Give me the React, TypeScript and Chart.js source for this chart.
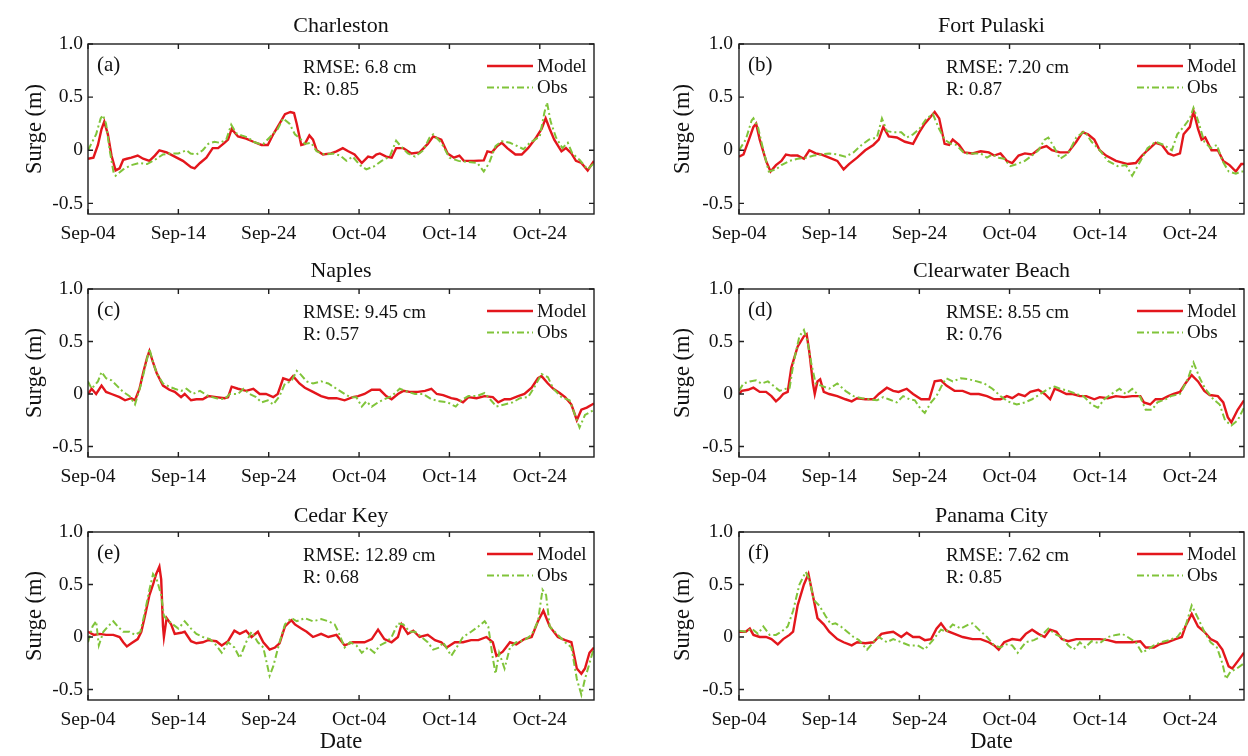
import React, { useEffect, useRef } from 'react';
import { Chart, registerables } from 'chart.js';

Chart.register(...registerables);

// ---------- DATA ----------
const xTickDays = [0, 10, 20, 30, 40, 50];
const xTickLabels = ['Sep-04', 'Sep-14', 'Sep-24', 'Oct-04', 'Oct-14', 'Oct-24'];
const yTickValues = [-0.5, 0, 0.5, 1.0];
const yTickLabels = ['-0.5', '0', '0.5', '1.0'];
const stationNames = ['Charleston', 'Fort Pulaski', 'Naples', 'Clearwater Beach', 'Cedar Key', 'Panama City'];
const panelLetters = ['(a)', '(b)', '(c)', '(d)', '(e)', '(f)'];
const rmseLabels = ['RMSE: 6.8 cm', 'RMSE: 7.20 cm', 'RMSE: 9.45 cm', 'RMSE: 8.55 cm', 'RMSE: 12.89 cm', 'RMSE: 7.62 cm'];
const rLabels = ['R: 0.85', 'R: 0.87', 'R: 0.57', 'R: 0.76', 'R: 0.68', 'R: 0.85'];
const seriesNames = ['Model', 'Obs'];

// [day since Sep-04, surge (m)]
const charlestonModel = [[0,-0.08],[0.6,-0.07],[1.1,0.05],[1.5,0.2],[1.8,0.27],[2.2,0.15],[2.6,-0.05],[3.05,-0.19],[3.5,-0.17],[3.9,-0.09],[4.3,-0.08],[4.8,-0.07],[5.5,-0.05],[6.1,-0.08],[6.8,-0.1],[7.4,-0.05],[7.9,0.0],[8.7,-0.02],[9.6,-0.06],[10.5,-0.1],[11.4,-0.16],[11.8,-0.17],[12.4,-0.12],[13.1,-0.07],[13.8,0.02],[14.4,0.02],[15.1,0.07],[15.5,0.1],[15.9,0.2],[16.6,0.13],[17.5,0.11],[18.3,0.08],[19.2,0.05],[19.9,0.05],[20.5,0.15],[21.2,0.25],[21.8,0.34],[22.4,0.36],[22.8,0.35],[23.1,0.25],[23.6,0.05],[24,0.06],[24.5,0.14],[24.9,0.1],[25.3,0.0],[26,-0.04],[26.9,-0.03],[27.5,-0.01],[28.2,0.02],[28.8,-0.01],[29.5,-0.04],[30.3,-0.12],[31,-0.06],[31.5,-0.07],[31.9,-0.04],[32.3,-0.03],[33,-0.06],[33.6,-0.07],[34.1,0.02],[34.9,0.02],[35.8,-0.03],[36.7,-0.02],[37.6,0.06],[38.2,0.13],[39.1,0.1],[39.8,-0.03],[40.5,-0.07],[41.1,-0.05],[41.6,-0.1],[42.7,-0.1],[43.8,-0.095],[44.2,-0.01],[44.7,-0.02],[45.3,0.04],[45.8,0.07],[46.4,0.02],[47.3,-0.04],[48,-0.04],[48.7,0.02],[49.6,0.12],[50.2,0.2],[50.65,0.3],[51.1,0.2],[51.6,0.1],[52.4,-0.01],[52.9,0.02],[53.5,-0.03],[54,-0.1],[54.6,-0.12],[55.3,-0.19],[56,-0.1]];
const charlestonObs = [[0,0.0],[0.9,0.15],[1.4,0.3],[1.65,0.33],[2,0.25],[2.4,0.0],[2.85,-0.22],[3.05,-0.24],[3.9,-0.18],[4.8,-0.14],[5.7,-0.12],[6.55,-0.13],[7.4,-0.09],[8.3,-0.04],[9.2,-0.03],[10,-0.03],[10.9,0.0],[11.35,-0.03],[12,-0.04],[12.7,0.0],[13.3,0.06],[14,0.08],[14.6,0.07],[15.3,0.1],[15.85,0.24],[16.4,0.16],[17,0.14],[17.7,0.12],[18.3,0.08],[19,0.06],[19.4,0.06],[20.1,0.12],[21,0.2],[21.6,0.3],[22.3,0.25],[22.9,0.15],[23.6,0.1],[24,0.06],[24.7,0.07],[25.3,-0.01],[26.2,-0.04],[27.1,-0.03],[27.9,-0.05],[28.6,-0.1],[29.3,-0.06],[30.1,-0.14],[30.8,-0.18],[31.7,-0.15],[32.5,-0.1],[33.4,-0.06],[34.1,0.09],[34.7,0.03],[35.4,-0.03],[36.2,-0.06],[37.1,0.0],[37.8,0.12],[38.2,0.15],[39.1,0.07],[40,-0.07],[41,-0.1],[42,-0.11],[43.1,-0.12],[43.8,-0.2],[44.4,-0.12],[45.1,0.04],[45.8,0.085],[46.7,0.07],[47.5,0.04],[48.2,0.01],[48.9,0.07],[50,0.13],[50.5,0.35],[50.8,0.45],[51.2,0.27],[51.8,0.12],[52.5,0.02],[53.1,0.07],[53.6,-0.03],[54.4,-0.09],[55.3,-0.18],[56,-0.12]];

const pulaskiModel = [[0,-0.06],[0.5,-0.04],[1.1,0.1],[1.6,0.22],[1.9,0.25],[2.3,0.1],[3,-0.1],[3.5,-0.2],[4.1,-0.14],[4.7,-0.1],[5.2,-0.04],[5.8,-0.05],[6.5,-0.05],[7.2,-0.08],[7.8,0.0],[8.5,-0.03],[9.1,-0.04],[10,-0.07],[10.9,-0.1],[11.6,-0.18],[12.2,-0.13],[13.1,-0.07],[14,0.0],[14.9,0.05],[15.5,0.1],[16,0.22],[16.6,0.13],[17.5,0.12],[18.4,0.08],[19.3,0.06],[20,0.17],[20.6,0.25],[21.3,0.32],[21.7,0.36],[22.2,0.3],[22.8,0.06],[23.3,0.05],[23.7,0.1],[24.4,0.05],[25,-0.02],[25.9,-0.03],[26.8,-0.01],[27.7,-0.02],[28.3,-0.05],[29,-0.03],[29.7,-0.1],[30.3,-0.12],[31,-0.05],[31.7,-0.03],[32.5,-0.04],[33.4,0.02],[34.1,0.04],[34.7,0.0],[35.6,-0.02],[36.5,-0.02],[37.4,0.08],[38.1,0.17],[38.7,0.15],[39.4,0.1],[40,0.0],[40.7,-0.05],[41.8,-0.1],[43.1,-0.13],[44,-0.12],[44.7,-0.05],[45.3,0.0],[46.2,0.07],[46.9,0.05],[47.6,-0.03],[48.2,-0.05],[48.9,-0.03],[49.3,0.15],[50,0.22],[50.4,0.37],[50.9,0.2],[51.3,0.1],[51.7,0.12],[52.4,0.0],[53.1,0.0],[53.7,-0.1],[54.4,-0.14],[55.1,-0.2],[55.7,-0.13],[56,-0.13]];
const pulaskiObs = [[0,0.0],[0.75,0.1],[1.4,0.28],[1.6,0.3],[2.1,0.22],[2.7,0.0],[3.3,-0.2],[4.1,-0.18],[4.7,-0.14],[5.6,-0.1],[6.5,-0.08],[7.4,-0.07],[8.3,-0.05],[9.1,-0.04],[10,-0.03],[10.9,-0.04],[11.8,-0.06],[12.7,-0.02],[13.6,0.05],[14.4,0.1],[15.3,0.12],[15.85,0.3],[16.4,0.18],[17.1,0.17],[18,0.17],[18.6,0.12],[19.3,0.15],[20,0.2],[20.8,0.3],[21.5,0.34],[22.2,0.2],[22.8,0.1],[23.5,0.06],[24.1,0.05],[25,-0.03],[25.9,-0.03],[26.8,-0.03],[27.5,-0.07],[28.1,-0.04],[28.8,-0.07],[29.4,-0.08],[30.1,-0.15],[30.8,-0.13],[31.7,-0.1],[32.5,-0.05],[33.2,0.0],[33.9,0.1],[34.3,0.12],[35,0.02],[35.6,-0.08],[36.5,-0.03],[37.4,0.12],[38.3,0.18],[39.1,0.08],[40,0.0],[40.9,-0.1],[42,-0.15],[42.9,-0.14],[43.6,-0.24],[44.2,-0.15],[45.3,0.02],[46.2,0.08],[47.1,0.05],[48,0.0],[48.6,0.15],[49.3,0.22],[50,0.3],[50.4,0.4],[50.9,0.28],[51.6,0.08],[52.3,0.02],[53,0.05],[53.6,-0.1],[54.3,-0.2],[55.1,-0.22],[55.7,-0.2],[56,-0.2]];

const naplesModel = [[0,0.0],[0.4,0.05],[0.9,0.0],[1.5,0.08],[2,0.02],[2.6,0.0],[3.5,-0.03],[4.1,-0.06],[4.8,-0.04],[5.2,-0.06],[5.7,0.05],[6.1,0.2],[6.55,0.35],[6.8,0.41],[7.2,0.3],[7.6,0.2],[8.3,0.08],[9,0.04],[9.6,0.02],[10.3,-0.03],[10.7,0.0],[11.4,-0.06],[12,-0.05],[12.7,-0.05],[13.3,-0.02],[14.2,-0.03],[15.1,-0.04],[15.5,-0.03],[15.9,0.07],[16.6,0.05],[17.5,0.03],[18.3,0.05],[19,0.0],[19.7,0.0],[20.5,-0.03],[21,0.0],[21.6,0.15],[22.3,0.13],[22.7,0.17],[23.4,0.1],[24,0.06],[24.9,0.02],[25.8,-0.02],[26.6,-0.04],[27.5,-0.04],[28.4,-0.06],[29.3,-0.03],[29.9,-0.02],[30.6,0.0],[31.4,0.04],[32.3,0.04],[33,-0.02],[33.6,-0.05],[34.3,0.0],[34.9,0.03],[35.6,0.02],[36.5,0.02],[37.3,0.03],[38,0.05],[38.6,0.0],[39.3,-0.01],[40.2,-0.04],[40.8,-0.05],[41.5,-0.08],[42.1,-0.03],[43,-0.04],[43.9,-0.02],[44.8,-0.03],[45.4,-0.08],[46.1,-0.05],[46.7,-0.05],[47.6,-0.02],[48.3,0.0],[49.1,0.06],[49.8,0.15],[50.2,0.17],[50.9,0.1],[51.5,0.05],[52.2,0.01],[52.8,-0.03],[53.5,-0.1],[54.1,-0.25],[54.6,-0.15],[55.2,-0.13],[56,-0.09]];
const naplesObs = [[0,0.12],[0.4,0.05],[1.1,0.12],[1.5,0.21],[2,0.15],[2.6,0.13],[3.3,0.07],[3.9,0.02],[4.6,-0.02],[5.2,-0.1],[5.9,0.1],[6.3,0.25],[6.8,0.43],[7.2,0.3],[7.6,0.2],[8.3,0.1],[9,0.07],[9.6,0.05],[10.3,0.03],[10.9,0.05],[11.6,0.0],[12.4,0.03],[13.3,-0.02],[14.2,-0.04],[15.1,-0.05],[15.7,0.0],[16.6,0.0],[17.2,0.05],[17.9,0.0],[18.6,-0.03],[19.2,-0.08],[19.9,-0.06],[20.5,-0.1],[21.2,-0.02],[21.8,0.1],[22.5,0.12],[23.1,0.22],[23.6,0.18],[24.2,0.12],[24.9,0.1],[25.8,0.12],[26.6,0.1],[27.5,0.05],[28.4,0.0],[29,-0.03],[29.7,-0.03],[30.3,-0.12],[30.8,-0.07],[31.4,-0.12],[32.1,-0.08],[32.8,-0.05],[33.6,-0.02],[34.5,0.05],[35.4,0.02],[36.2,0.0],[37.1,0.0],[38,-0.05],[38.9,-0.07],[39.8,-0.08],[40.7,-0.12],[41.3,-0.06],[42.1,-0.02],[43,-0.02],[43.9,0.01],[44.5,-0.05],[45.2,-0.12],[46.1,-0.1],[47,-0.08],[47.8,-0.04],[48.7,-0.03],[49.3,0.05],[50.2,0.19],[50.9,0.16],[51.5,0.05],[52.4,-0.03],[53.3,-0.06],[53.9,-0.2],[54.4,-0.32],[55,-0.2],[56,-0.15]];

const clearwaterModel = [[0,0.0],[0.3,0.03],[1,0.04],[1.6,0.06],[2.3,0.02],[3,0.02],[3.6,-0.02],[4.1,-0.07],[4.5,-0.04],[4.9,0.0],[5.4,0.02],[5.8,0.25],[6.5,0.45],[7.2,0.55],[7.5,0.57],[7.8,0.4],[8.2,0.1],[8.4,0.0],[8.7,0.12],[9,0.14],[9.4,0.02],[10,0.0],[10.9,-0.02],[11.8,-0.05],[12.5,-0.07],[13.1,-0.04],[14,-0.05],[14.9,-0.05],[15.5,0.0],[16.4,0.06],[17.1,0.03],[17.7,0.02],[18.6,0.05],[19.3,0.0],[20.2,-0.05],[21.1,-0.05],[21.7,0.12],[22.4,0.13],[23,0.08],[23.9,0.03],[24.8,0.03],[25.7,0.0],[26.6,0.0],[27.5,-0.02],[28.3,-0.05],[29,-0.05],[29.7,-0.02],[30.3,-0.04],[31,0.0],[31.7,-0.02],[32.3,0.02],[33.2,0.04],[33.9,0.0],[34.5,-0.05],[35,0.05],[35.6,0.03],[36.3,0.0],[37,0.0],[37.8,-0.02],[38.5,-0.02],[39.4,-0.05],[40,-0.03],[40.9,-0.04],[41.8,-0.02],[42.7,-0.03],[43.6,-0.02],[44.5,-0.02],[44.9,-0.08],[45.6,-0.1],[46.2,-0.05],[46.9,-0.05],[47.6,-0.02],[48.2,0.0],[48.9,0.02],[49.5,0.1],[50.2,0.18],[50.9,0.12],[51.6,0.03],[52.2,-0.01],[53.1,-0.02],[53.7,-0.08],[54.2,-0.22],[54.6,-0.27],[55.3,-0.15],[56,-0.06]];
const clearwaterObs = [[0,0.03],[0.5,0.1],[1.2,0.12],[1.9,0.13],[2.5,0.1],[3.2,0.12],[3.8,0.08],[4.5,0.03],[5.2,0.05],[5.6,0.05],[6.05,0.3],[6.7,0.55],[7.2,0.61],[7.6,0.5],[8,0.3],[8.5,0.1],[9.1,0.08],[10,0.05],[10.9,0.1],[11.8,0.03],[12.7,-0.02],[13.6,-0.04],[14.4,-0.05],[15.3,-0.06],[16,-0.03],[16.6,-0.05],[17.5,-0.08],[18.2,-0.02],[18.9,-0.05],[19.5,-0.06],[20.2,-0.15],[20.6,-0.18],[21.3,-0.08],[21.9,-0.02],[22.6,0.1],[23,0.15],[23.7,0.12],[24.6,0.15],[25.5,0.14],[26.4,0.12],[27.2,0.1],[28.1,0.05],[29,-0.02],[29.8,-0.07],[30.8,-0.1],[31.7,-0.08],[32.5,-0.05],[33.4,0.0],[34.3,0.05],[35,0.07],[35.6,0.05],[36.5,0.03],[37.4,0.0],[38.2,-0.02],[39.1,-0.1],[39.8,-0.13],[40.5,-0.05],[41.3,0.0],[42.2,0.05],[42.9,0.0],[43.6,0.05],[44.5,-0.03],[45.1,-0.15],[45.8,-0.15],[46.4,-0.08],[47.3,-0.05],[47.9,-0.02],[48.9,0.0],[49.8,0.15],[50.4,0.3],[51.1,0.15],[51.7,0.05],[52.6,-0.05],[53.3,-0.1],[53.9,-0.25],[54.6,-0.3],[55.3,-0.25],[56,-0.13]];

const cedarKeyModel = [[0,0.05],[0.65,0.02],[1.3,0.03],[2,0.02],[2.8,0.02],[3.5,0.0],[3.9,-0.05],[4.3,-0.09],[4.8,-0.06],[5.5,-0.02],[5.9,0.05],[6.3,0.2],[6.8,0.4],[7.2,0.5],[7.55,0.6],[7.9,0.67],[8.1,0.55],[8.3,0.1],[8.4,0.0],[8.7,0.18],[9.2,0.12],[9.6,0.03],[10.3,0.04],[10.7,0.05],[11.4,-0.04],[12,-0.06],[12.7,-0.05],[13.3,-0.03],[14.2,-0.04],[14.8,-0.08],[15.5,-0.04],[16.2,0.06],[16.8,0.03],[17.5,0.06],[18.1,0.0],[18.8,0.05],[19.4,-0.05],[20.1,-0.12],[20.7,-0.1],[21.2,-0.06],[21.8,0.1],[22.5,0.16],[22.9,0.12],[23.6,0.08],[24.2,0.05],[24.9,0.0],[25.8,0.03],[26.6,0.0],[27.5,0.02],[28.4,-0.08],[29.3,-0.05],[29.9,-0.05],[30.6,-0.05],[31.4,-0.02],[32.1,0.07],[32.8,-0.02],[33.6,-0.05],[34.3,0.0],[34.7,0.12],[35.4,0.03],[36,0.06],[36.7,0.0],[37.6,0.02],[38.4,-0.03],[39.1,-0.05],[39.7,-0.1],[40.6,-0.05],[41.5,-0.05],[42.4,-0.03],[43.2,-0.03],[44.1,0.0],[44.8,-0.05],[45.2,-0.18],[45.9,-0.14],[46.7,-0.05],[47.4,-0.07],[48.3,-0.02],[49.1,0.0],[49.8,0.15],[50.4,0.25],[51.1,0.1],[52,0.0],[52.8,-0.03],[53.5,-0.05],[54.1,-0.3],[54.6,-0.35],[55,-0.3],[55.5,-0.15],[56,-0.1]];
const cedarKeyObs = [[0,-0.05],[0.5,0.1],[0.9,0.15],[1.2,-0.08],[1.7,0.05],[2.2,0.1],[2.8,0.15],[3.3,0.1],[3.9,0.05],[4.6,0.05],[5.2,0.02],[5.8,0.05],[6.2,0.2],[6.8,0.45],[7.2,0.6],[7.6,0.55],[8.1,0.4],[8.4,0.2],[8.7,0.17],[9.4,0.12],[10,0.08],[10.7,0.15],[11.4,0.08],[12,0.03],[12.7,0.0],[13.5,-0.02],[14.2,-0.08],[14.8,-0.15],[15.5,-0.05],[16.2,-0.1],[16.8,-0.2],[17.5,-0.05],[18.1,0.05],[18.8,-0.05],[19.4,-0.1],[20.1,-0.37],[20.5,-0.28],[21.2,-0.05],[21.8,0.12],[22.5,0.18],[23.1,0.15],[24,0.18],[24.9,0.15],[25.8,0.17],[26.6,0.15],[27.3,0.12],[27.7,0.05],[28.4,-0.1],[29,-0.05],[29.7,-0.08],[30.3,-0.15],[31,-0.1],[31.7,-0.15],[32.3,-0.08],[33,-0.05],[33.6,0.0],[34.3,0.13],[34.9,0.12],[35.6,0.05],[36.2,0.05],[36.9,0.0],[37.6,-0.05],[38.2,-0.12],[38.9,-0.1],[39.3,-0.05],[40.2,-0.18],[40.8,-0.1],[41.5,0.0],[42.4,0.05],[43.2,0.1],[43.9,0.15],[44.3,0.1],[44.8,-0.2],[45.1,-0.35],[45.5,-0.15],[46.1,-0.3],[46.7,-0.1],[47.4,-0.05],[48.3,-0.03],[49.1,0.02],[49.8,0.15],[50.3,0.45],[50.7,0.4],[51.1,0.1],[52,0.02],[52.8,-0.05],[53.5,-0.1],[54.1,-0.4],[54.6,-0.55],[55,-0.4],[55.5,-0.25],[56,-0.1]];

const panamaModel = [[0,0.05],[0.75,0.05],[1.2,0.08],[1.6,0.02],[2.3,0.0],[3,0.0],[3.6,-0.02],[4.3,-0.07],[4.9,-0.02],[5.6,0.02],[6,0.05],[6.5,0.3],[7.2,0.5],[7.7,0.6],[8.3,0.35],[8.7,0.18],[9.4,0.12],[10,0.05],[10.9,-0.02],[11.6,-0.05],[12.5,-0.08],[13.1,-0.05],[14,-0.06],[14.9,-0.05],[15.8,0.03],[16.4,0.04],[17.1,0.05],[18,0.0],[18.6,0.04],[19.3,0.0],[20,0.0],[20.6,-0.03],[21.3,-0.02],[21.9,0.08],[22.4,0.13],[23,0.06],[23.9,0.03],[24.8,0.0],[25.9,-0.02],[26.8,-0.02],[27.7,-0.05],[28.3,-0.08],[28.8,-0.12],[29.4,-0.05],[30.3,-0.02],[31.2,-0.03],[31.8,0.03],[32.5,0.07],[33.2,0.03],[33.9,0.0],[34.5,0.07],[35.2,0.05],[35.8,-0.02],[36.5,-0.04],[37.4,-0.02],[38.2,-0.02],[39.1,-0.02],[40,-0.02],[40.9,-0.03],[41.8,-0.05],[42.7,-0.05],[43.6,-0.05],[44.5,-0.04],[45.1,-0.1],[46,-0.1],[46.6,-0.07],[47.5,-0.05],[48.4,-0.02],[49.1,0.0],[49.5,0.1],[50.2,0.22],[50.9,0.1],[51.6,0.05],[52.3,-0.02],[53,-0.05],[53.6,-0.12],[54.3,-0.28],[54.7,-0.3],[55.4,-0.22],[56,-0.15]];
const panamaObs = [[0,0.06],[0.75,0.05],[1.4,0.08],[2.1,0.03],[2.7,0.1],[3.4,0.02],[4.1,0.02],[4.7,0.05],[5.4,0.1],[6,0.25],[6.7,0.5],[7.4,0.62],[7.8,0.55],[8.3,0.35],[8.9,0.3],[9.6,0.2],[10.2,0.12],[10.7,0.13],[11.3,0.1],[12,0.05],[12.7,0.0],[13.3,-0.03],[14.2,-0.12],[14.9,-0.05],[15.5,0.0],[16.4,-0.05],[17.1,-0.02],[18,-0.05],[18.9,-0.08],[19.8,-0.08],[20.6,-0.12],[21.5,-0.03],[22.4,0.07],[23,0.05],[23.7,0.12],[24.6,0.08],[25.5,0.12],[25.9,0.13],[26.6,0.07],[27.5,0.0],[28.3,-0.08],[29,-0.1],[29.6,-0.07],[30.3,-0.08],[30.9,-0.15],[31.8,-0.05],[32.7,-0.03],[33.4,0.0],[34.3,0.08],[35.2,0.02],[35.8,0.0],[36.5,-0.08],[37.1,-0.12],[37.8,-0.05],[38.4,-0.1],[39.1,-0.04],[40,-0.06],[40.9,0.0],[41.8,0.02],[42.5,0.03],[43.1,0.0],[44,-0.05],[44.7,-0.15],[45.3,-0.12],[46,-0.08],[46.8,-0.05],[47.7,-0.03],[48.6,0.0],[49.5,0.1],[50.2,0.3],[50.9,0.18],[51.6,0.05],[52.3,-0.05],[53,-0.1],[53.6,-0.25],[54,-0.4],[54.5,-0.33],[55.2,-0.3],[56,-0.25]];

const modelSeries = [charlestonModel, pulaskiModel, naplesModel, clearwaterModel, cedarKeyModel, panamaModel];
const obsSeries = [charlestonObs, pulaskiObs, naplesObs, clearwaterObs, cedarKeyObs, panamaObs];

// ---------- STYLE / LAYOUT ----------
const SERIF = "'Liberation Serif', 'Times New Roman', serif";
const TEXT = '#111111';
const RED = '#e3161c';
const GREEN = '#80c43a';

const colBox = [
  { left: 0, width: 620, areaL: 88, areaR: 594, statsDx: 215 },
  { left: 620, width: 628, areaL: 119, areaR: 624, statsDx: 207 },
];
const rowBox = [
  { top: 0, height: 250, areaT: 44, areaB: 214, titleDy: 18 },
  { top: 250, height: 250, areaT: 39, areaB: 207, titleDy: 18 },
  { top: 500, height: 256, areaT: 32, areaB: 200, titleDy: 16 },
];

const decorPlugin = {
  id: 'panelDecor',
  afterDatasetsDraw(chart: any, _args: any, opts: any) {
    const { ctx, chartArea: a, scales } = chart;
    const xs = scales.x, ys = scales.y;
    ctx.save();
    // frame
    ctx.strokeStyle = '#1e1e1e';
    ctx.lineWidth = 1.4;
    ctx.strokeRect(a.left, a.top, a.right - a.left, a.bottom - a.top);
    // inward ticks on all sides
    const tl = 5;
    ctx.beginPath();
    for (const t of xs.ticks) {
      const px = xs.getPixelForValue(t.value);
      ctx.moveTo(px, a.bottom); ctx.lineTo(px, a.bottom - tl);
      ctx.moveTo(px, a.top); ctx.lineTo(px, a.top + tl);
    }
    for (const t of ys.ticks) {
      const py = ys.getPixelForValue(t.value);
      ctx.moveTo(a.left, py); ctx.lineTo(a.left + tl, py);
      ctx.moveTo(a.right, py); ctx.lineTo(a.right - tl, py);
    }
    ctx.stroke();

    ctx.fillStyle = TEXT;
    ctx.textBaseline = 'middle';
    // title
    ctx.font = `22px ${SERIF}`;
    ctx.textAlign = 'center';
    ctx.fillText(opts.title, (a.left + a.right) / 2, a.top - opts.titleDy);
    // panel letter
    ctx.textAlign = 'left';
    ctx.font = `21px ${SERIF}`;
    ctx.fillText(opts.letter, a.left + 9, a.top + 21);
    // stats
    ctx.font = `19px ${SERIF}`;
    ctx.fillText(opts.rmse, a.left + opts.statsDx, a.top + 24.5);
    ctx.fillText(opts.r, a.left + opts.statsDx, a.top + 46);
    // legend
    const rows = [a.top + 23, a.top + 44.5];
    chart.data.datasets.forEach((ds: any, i: number) => {
      const yy = rows[i];
      ctx.save();
      ctx.strokeStyle = ds.borderColor;
      ctx.lineWidth = ds.borderWidth;
      ctx.setLineDash(ds.borderDash || []);
      ctx.beginPath();
      ctx.moveTo(a.right - 107, yy - 1);
      ctx.lineTo(a.right - 61, yy - 1);
      ctx.stroke();
      ctx.restore();
      ctx.fillStyle = TEXT;
      ctx.font = `19px ${SERIF}`;
      ctx.textAlign = 'left';
      ctx.fillText(ds.label, a.right - 57, yy);
    });
    ctx.restore();
  },
};

function Panel({ idx }: { idx: number }) {
  const ref = useRef<HTMLCanvasElement>(null);
  const col = colBox[idx % 2];
  const row = rowBox[Math.floor(idx / 2)];
  const isBottom = Math.floor(idx / 2) === 2;

  useEffect(() => {
    if (!ref.current) return;
    const axisTitleFont = 22.5;
    const surgeCenter = col.left === 0 ? 35 : 63;
    const chart = new Chart(ref.current, {
      type: 'line',
      data: {
        datasets: [
          {
            label: seriesNames[0],
            data: modelSeries[idx] as any,
            borderColor: RED,
            borderWidth: 2.4,
            pointRadius: 0,
            tension: 0,
            fill: false,
            order: 1,
          },
          {
            label: seriesNames[1],
            data: obsSeries[idx] as any,
            borderColor: GREEN,
            borderWidth: 2,
            borderDash: [7, 3, 2, 3],
            pointRadius: 0,
            tension: 0,
            fill: false,
            order: 0,
          },
        ],
      },
      options: {
        responsive: false,
        animation: false,
        events: [],
        layout: { padding: { left: 0, top: row.areaT, right: col.width - col.areaR, bottom: 0 } },
        plugins: {
          legend: { display: false },
          title: { display: false },
          tooltip: { enabled: false },
          panelDecor: {
            title: stationNames[idx],
            letter: panelLetters[idx],
            rmse: rmseLabels[idx],
            r: rLabels[idx],
            statsDx: col.statsDx,
            titleDy: row.titleDy,
          },
        } as any,
        scales: {
          x: {
            type: 'linear',
            min: 0,
            max: 56,
            grid: { display: false, drawTicks: false },
            border: { display: false },
            ticks: {
              stepSize: 10,
              includeBounds: false,
              maxRotation: 0,
              autoSkip: false,
              padding: 8,
              color: TEXT,
              font: { family: SERIF, size: 19.5 },
              callback: (v: any) => {
                const i = xTickDays.indexOf(Math.round(Number(v)));
                return i >= 0 ? xTickLabels[i] : '';
              },
            },
            title: {
              display: isBottom,
              text: 'Date',
              color: TEXT,
              font: { family: SERIF, size: axisTitleFont },
              padding: { top: 0, bottom: 0 },
            },
            afterFit: (s: any) => {
              s.height = row.height - row.areaB;
              s.paddingLeft = 0;
              s.paddingRight = 0;
            },
          },
          y: {
            type: 'linear',
            min: -0.6,
            max: 1.0,
            grid: { display: false, drawTicks: false },
            border: { display: false },
            ticks: {
              stepSize: 0.5,
              includeBounds: false,
              padding: col.left === 0 ? 5 : 6,
              color: TEXT,
              font: { family: SERIF, size: 19.5 },
              callback: (v: any) => {
                const i = yTickValues.findIndex((t) => Math.abs(t - Number(v)) < 1e-6);
                return i >= 0 ? yTickLabels[i] : '';
              },
            },
            title: {
              display: true,
              text: 'Surge (m)',
              color: TEXT,
              font: { family: SERIF, size: axisTitleFont },
              padding: { top: surgeCenter - axisTitleFont * 0.6, bottom: 0 },
            },
            afterFit: (s: any) => {
              s.width = col.areaL;
              s.paddingTop = 0;
              s.paddingBottom = 0;
            },
          },
        },
      } as any,
      plugins: [decorPlugin],
    });
    return () => chart.destroy();
  }, [idx]);

  return (
    <canvas
      ref={ref}
      width={col.width}
      height={row.height}
      style={{ position: 'absolute', left: col.left, top: row.top, width: col.width, height: row.height, display: 'block' }}
    />
  );
}

export default function App() {
  return (
    <div style={{ position: 'absolute', left: 0, top: 0, width: 1248, height: 756, background: '#ffffff', overflow: 'hidden' }}>
      {[0, 1, 2, 3, 4, 5].map((i) => (
        <Panel key={i} idx={i} />
      ))}
    </div>
  );
}
